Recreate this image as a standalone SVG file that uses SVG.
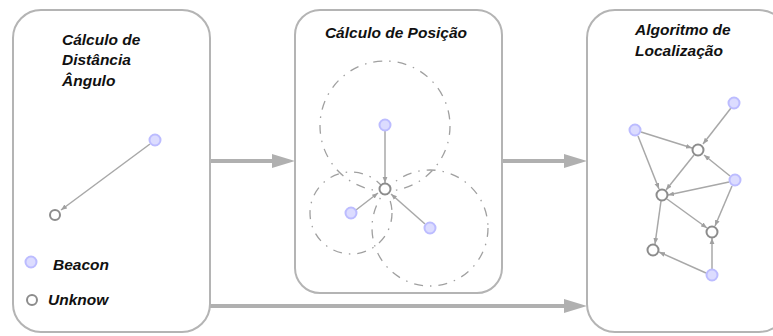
<svg xmlns="http://www.w3.org/2000/svg" width="773" height="336" viewBox="0 0 773 336">
  <style>
    .panel { fill: #ffffff; stroke: #b4b4b4; stroke-width: 2; }
    .title { font-family: "Liberation Sans", Arial, sans-serif; font-size: 15.5px; font-weight: bold; font-style: italic; fill: #111111; }
    .beacon { fill: #dcdcff; stroke: #bcbcff; stroke-width: 2; }
    .unknown { fill: #ffffff; stroke: #8c8c8c; stroke-width: 2; }
    .edge { stroke: #a8a8a8; stroke-width: 1.5; fill: none; marker-end: url(#small); }
    .flow { stroke: #b0b0b0; stroke-width: 4; fill: none; }
    .range { fill: none; stroke: #a0a0a0; stroke-width: 1.3; stroke-dasharray: 9 7 1.5 7; }
  </style>
  <defs>
    <marker id="small" viewBox="0 0 10 10" refX="10" refY="5" markerWidth="6" markerHeight="6" markerUnits="userSpaceOnUse" orient="auto">
      <path d="M0,1 L10,5 L0,9 Z" fill="#a0a0a0"/>
    </marker>
  </defs>
  <rect width="773" height="336" fill="#ffffff"/>

  <!-- process flow between panels -->
  <g id="connectors">
    <line class="flow" x1="210" y1="161" x2="274" y2="161"/>
    <path d="M272,154 L295,161 L272,168 Z" fill="#b0b0b0"/>
    <line class="flow" x1="502" y1="161" x2="566" y2="161"/>
    <path d="M564,154 L587,161 L564,168 Z" fill="#b0b0b0"/>
    <line class="flow" x1="210" y1="306" x2="566" y2="306"/>
    <path d="M564,299 L587,306 L564,313 Z" fill="#b0b0b0"/>
  </g>

  <!-- panel 1: distance / angle -->
  <g id="panel-distance">
    <rect class="panel" x="13" y="10" width="197" height="322" rx="28"/>
    <text class="title" x="62" y="45">Cálculo de</text>
    <text class="title" x="62" y="65">Distância</text>
    <text class="title" x="62" y="86">Ângulo</text>
    <line class="edge" x1="150" y1="144" x2="61" y2="210"/>
    <circle class="beacon" cx="155" cy="140" r="5.5"/>
    <circle class="unknown" cx="55" cy="215" r="5"/>
    <circle class="beacon" cx="31" cy="262" r="5.5"/>
    <text class="title" x="53" y="270">Beacon</text>
    <circle class="unknown" cx="32" cy="300" r="5"/>
    <text class="title" x="48" y="305">Unknow</text>
  </g>

  <!-- panel 2: position -->
  <g id="panel-position">
    <rect class="panel" x="295" y="10" width="207" height="283" rx="25"/>
    <text class="title" x="396" y="38" text-anchor="middle">Cálculo de Posição</text>
    <circle class="range" cx="385" cy="126" r="65"/>
    <circle class="range" cx="351" cy="213" r="41"/>
    <circle class="range" cx="430" cy="228" r="58"/>
    <line class="edge" x1="385" y1="131" x2="385" y2="183"/>
    <line class="edge" x1="356" y1="210" x2="378" y2="193"/>
    <line class="edge" x1="425" y1="224" x2="391" y2="194"/>
    <circle class="beacon" cx="385" cy="125" r="5.5"/>
    <circle class="beacon" cx="351" cy="213" r="5.5"/>
    <circle class="beacon" cx="430" cy="228" r="5.5"/>
    <circle class="unknown" cx="385" cy="189" r="5.5"/>
  </g>

  <!-- panel 3: localization algorithm -->
  <g id="panel-localization">
    <rect class="panel" x="587" y="10" width="200" height="322" rx="28"/>
    <text class="title" x="635" y="35">Algoritmo de</text>
    <text class="title" x="635" y="56">Localização</text>
    <line class="edge" x1="731" y1="108" x2="703" y2="144"/>
    <line class="edge" x1="641" y1="132" x2="692" y2="148"/>
    <line class="edge" x1="638" y1="136" x2="659" y2="189"/>
    <line class="edge" x1="730" y1="176" x2="704" y2="155"/>
    <line class="edge" x1="694" y1="155" x2="666" y2="190"/>
    <line class="edge" x1="729" y1="182" x2="668" y2="195"/>
    <line class="edge" x1="667" y1="199" x2="707" y2="228"/>
    <line class="edge" x1="732" y1="186" x2="715" y2="226"/>
    <line class="edge" x1="661" y1="201" x2="655" y2="244"/>
    <line class="edge" x1="712" y1="269" x2="712" y2="238"/>
    <line class="edge" x1="706" y1="273" x2="659" y2="252"/>
    <circle class="beacon" cx="734" cy="103" r="5.5"/>
    <circle class="beacon" cx="635" cy="130" r="5.5"/>
    <circle class="unknown" cx="698" cy="150" r="5.5"/>
    <circle class="beacon" cx="735" cy="180" r="5.5"/>
    <circle class="unknown" cx="662" cy="195" r="5.5"/>
    <circle class="unknown" cx="712" cy="232" r="5.5"/>
    <circle class="unknown" cx="653" cy="250" r="5.5"/>
    <circle class="beacon" cx="712" cy="275" r="5.5"/>
  </g>
</svg>
